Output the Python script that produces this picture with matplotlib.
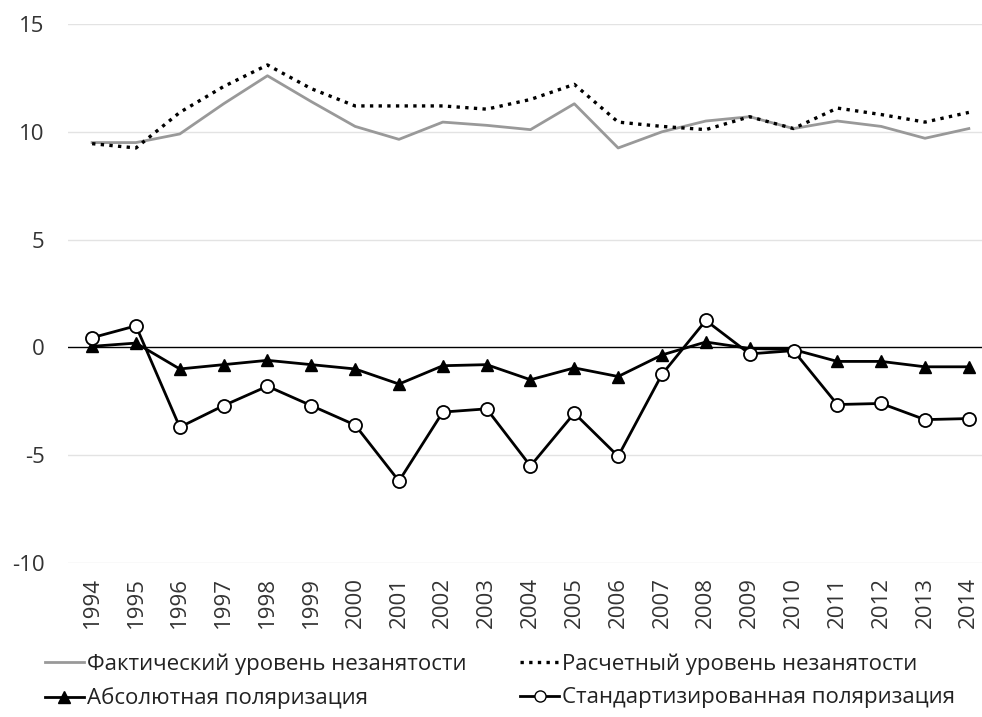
import matplotlib
matplotlib.use("Agg")
import matplotlib.pyplot as plt
from matplotlib.lines import Line2D

plt.rcParams['font.family'] = ['Open Sans', 'DejaVu Sans']

# ======================== Data =============================
years = [str(y) for y in range(1994, 2015)]

actual = [9.5, 9.5, 9.9, 11.3, 12.6, 11.4, 10.25, 9.65, 10.45, 10.3, 10.1,
          11.3, 9.25, 10.0, 10.5, 10.7, 10.15, 10.5, 10.25, 9.7, 10.15]
estimated = [9.45, 9.25, 10.9, 12.1, 13.1, 12.0, 11.2, 11.2, 11.2, 11.05, 11.5,
             12.2, 10.45, 10.25, 10.1, 10.7, 10.15, 11.1, 10.8, 10.45, 10.9]
absolute = [0.05, 0.2, -1.0, -0.8, -0.6, -0.8, -1.0, -1.7, -0.85, -0.8, -1.5,
            -0.95, -1.35, -0.35, 0.25, -0.05, -0.1, -0.65, -0.65, -0.9, -0.9]
standard = [0.45, 1.0, -3.7, -2.7, -1.8, -2.7, -3.6, -6.2, -3.0, -2.85, -5.5,
            -3.05, -5.05, -1.25, 1.25, -0.3, -0.15, -2.65, -2.6, -3.35, -3.3]

labels = ['Фактический уровень незанятости', 'Расчетный уровень незанятости',
          'Абсолютная поляризация', 'Стандартизированная поляризация']
yticks = [-10, -5, 0, 5, 10, 15]

# ======================== Figure =============================
fig = plt.figure(figsize=(9.82, 7.17), dpi=100, facecolor='white')
ax = fig.add_axes([68/982, 1 - 563/717, 1 - 68/982, (563 - 24)/717])

x = list(range(len(years)))

for yv in yticks:
    if yv == 0:
        ax.axhline(0, color='black', lw=1.0, zorder=1)
    else:
        ax.axhline(yv, color='#e3e3e3', lw=1.0, zorder=0)

dots = (0, (1, 1.6))
ax.plot(x, actual, color='#999999', lw=2.0, zorder=2)
ax.plot(x, estimated, color='black', lw=2.4, linestyle=dots, zorder=2)
ax.plot(x, absolute, color='black', lw=2.0, marker='^', markersize=8,
        markerfacecolor='black', markeredgecolor='black', zorder=3)
ax.plot(x, standard, color='black', lw=2.0, marker='o', markersize=9.4,
        markerfacecolor='white', markeredgecolor='black', markeredgewidth=1.3, zorder=4)

ax.set_xlim(-0.55, 20.3)
ax.set_ylim(-10, 15)
ax.set_yticks(yticks)
ax.set_yticklabels([str(v) for v in yticks], fontsize=16, color='#333333')
ax.set_xticks(x)
ax.set_xticklabels(years, rotation=90, fontsize=16, color='#333333')
ax.tick_params(axis='y', length=0, pad=17)
ax.tick_params(axis='x', length=0, pad=10)
for s in ax.spines.values():
    s.set_visible(False)

handles = [
    Line2D([], [], color='#999999', lw=2.0),
    Line2D([], [], color='black', lw=2.0, marker='^', markersize=8),
    Line2D([], [], color='black', lw=2.4, linestyle=dots),
    Line2D([], [], color='black', lw=2.0, marker='o', markersize=8,
           markerfacecolor='white', markeredgecolor='black'),
]
fig.legend(handles, [labels[0], labels[2], labels[1], labels[3]], ncol=2,
           loc='center left', bbox_to_anchor=(45/982, 1 - 681.5/717),
           frameon=False, borderpad=0, borderaxespad=0,
           fontsize=16, handlelength=1.75, handletextpad=0.15,
           columnspacing=2.4, labelspacing=0.55, labelcolor='#222222')

fig.savefig('out.png', dpi=100, facecolor='white')
